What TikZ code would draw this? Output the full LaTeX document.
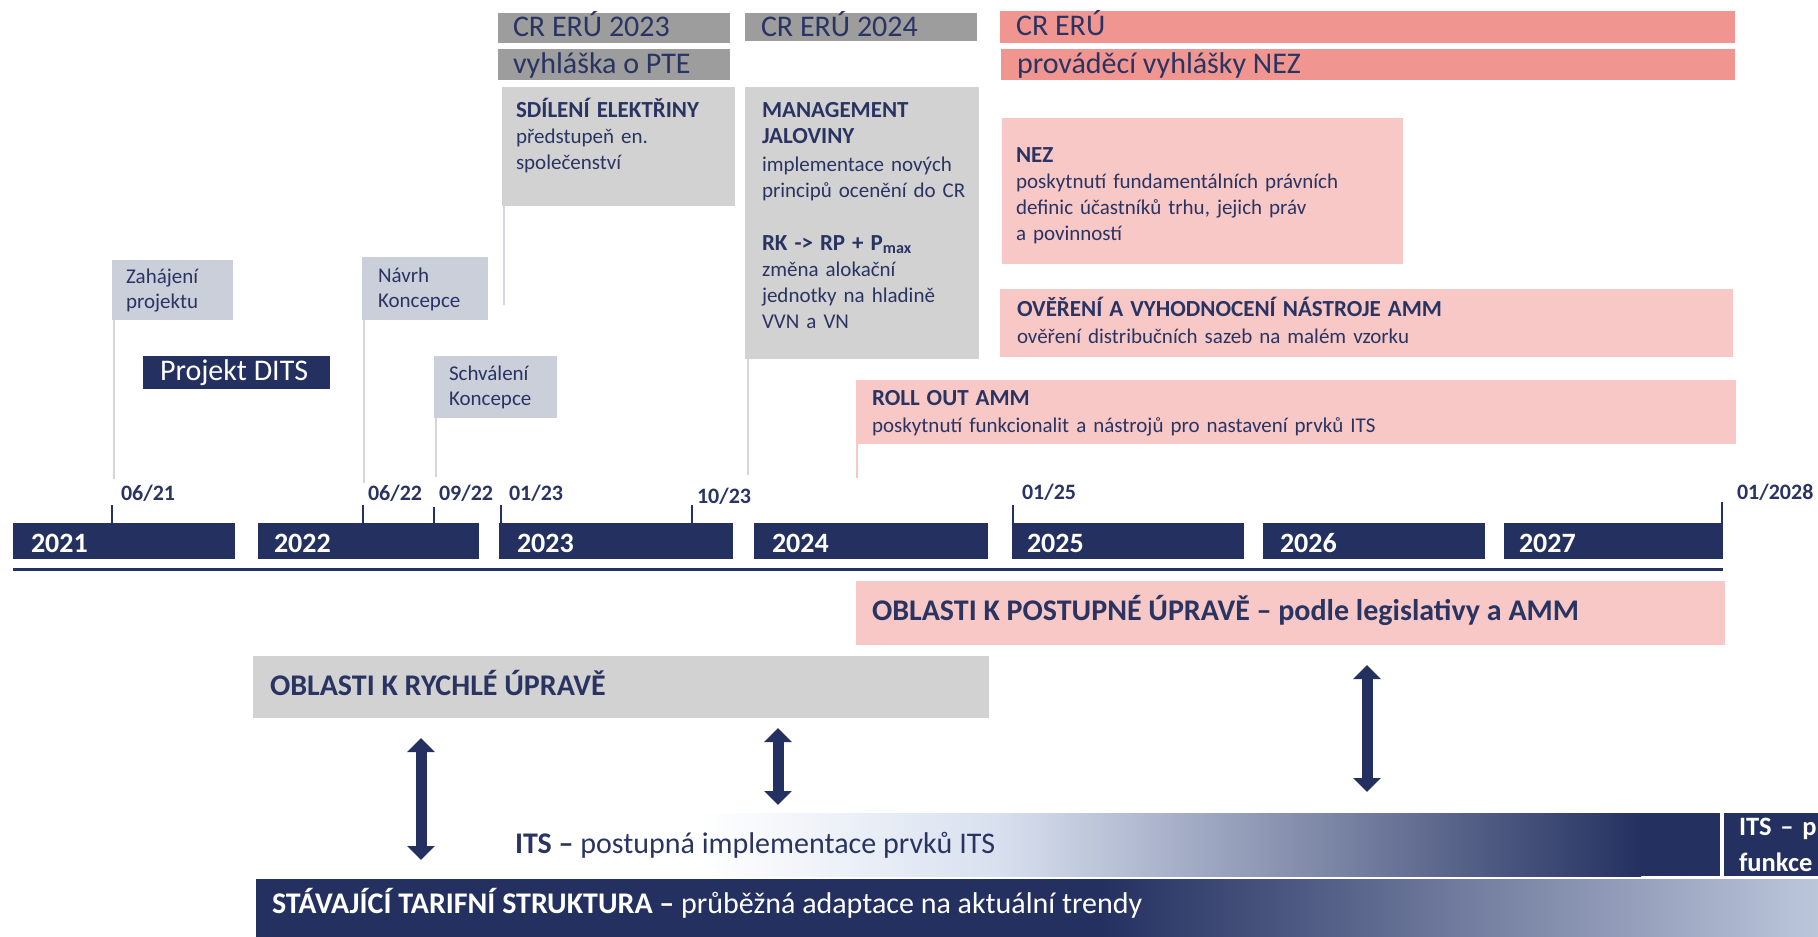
\documentclass[tikz,border=0pt]{standalone}
\usepackage{fontspec}
\setmainfont{Carlito}
\usetikzlibrary{arrows.meta}
\definecolor{navy}{HTML}{243060}
\definecolor{tnavy}{HTML}{2A3463}
\definecolor{hdrgray}{HTML}{9D9D9D}
\definecolor{lgray}{HTML}{D2D2D2}
\definecolor{salmon}{HTML}{F0958F}
\definecolor{lpink}{HTML}{F7C8C6}
\definecolor{msgray}{HTML}{CBCFDA}
\definecolor{connclr}{HTML}{D3D6DE}
\definecolor{itsmid}{HTML}{D8E0EF}
\definecolor{stavend}{HTML}{BCC6DB}
\newcommand\fHdr{\fontsize{30}{36}\selectfont}
\newcommand\fMs{\fontsize{21}{25}\selectfont}
\newcommand\fCont{\fontsize{21}{26}\selectfont}
\newcommand\ttl[1]{{\fontsize{23}{26}\selectfont\bfseries #1}}
\newcommand\fTick{\fontsize{22}{26}\selectfont\bfseries}
\newcommand\fYear{\fontsize{28}{32}\selectfont\bfseries}
\newcommand\fBig{\fontsize{30}{36}\selectfont}
\tikzset{
  box/.style={anchor=north west, inner sep=0pt, outer sep=0pt},
  txt/.style={anchor=base west, inner sep=0pt, outer sep=0pt, text=tnavy, align=left},
  txtw/.style={txt, text width=#1},
  wtxt/.style={txt, text=white},
  connline/.style={draw=connclr, line width=2pt},
  pinkline/.style={draw=lpink, line width=2pt},
  tickline/.style={draw=navy, line width=2.5pt},
  yearbar/.style={box, fill=navy, minimum height=36pt},
  bigarrow/.style={draw=navy, line width=11pt,
    {Triangle[width=27pt,length=14pt]}-{Triangle[width=27pt,length=14pt]}},
}
\begin{document}
\begin{tikzpicture}[x=1pt,y=-1pt]
\useasboundingbox (0,0) rectangle (1818,937);

% ---------- header bars ----------
\node[box, fill=hdrgray, minimum width=232pt, minimum height=30pt] (h23) at (498,13) {};
\node[txt, font=\fHdr] (h23t) at (513,36) {CR ERÚ 2023};
\node[box, fill=hdrgray, minimum width=232pt, minimum height=31pt] (hpte) at (498,49) {};
\node[txt, font=\fHdr] (hptet) at (513,73) {vyhláška o PTE};
\node[box, fill=hdrgray, minimum width=232pt, minimum height=28pt] (h24) at (745,13) {};
\node[txt, font=\fHdr] (h24t) at (761,36) {CR ERÚ 2024};
\node[box, fill=salmon, minimum width=735pt, minimum height=32pt] (heru) at (1000,11) {};
\node[txt, font=\fHdr] (herut) at (1016,35) {CR ERÚ};
\node[box, fill=salmon, minimum width=734pt, minimum height=31pt] (hnez) at (1001,49) {};
\node[txt, font=\fHdr] (hnezt) at (1017,73) {prováděcí vyhlášky NEZ};

% ---------- content boxes ----------
\node[box, fill=lgray, minimum width=233pt, minimum height=119pt] (sdil) at (502,87) {};
\node[txtw=215pt, font=\fCont] (sdilt) at (516,117)
  {\ttl{SDÍLENÍ ELEKTŘINY}\\předstupeň en.\\společenství};
\node[box, fill=lgray, minimum width=234pt, minimum height=272pt] (mgmt) at (745,87) {};
\node[txtw=215pt, font=\fCont] (mgmtt) at (762,117)
  {\ttl{MANAGEMENT}\\\ttl{JALOVINY}\\[2pt]implementace nových\\principů ocenění do CR\\[27pt]%
   \ttl{RK -> RP + P\textsubscript{max}}\\změna alokační\\jednotky na hladině\\VVN a VN};
\node[box, fill=lpink, minimum width=401pt, minimum height=146pt] (nez) at (1002,118) {};
\node[txtw=380pt, font=\fCont] (nezt) at (1016,162)
  {\ttl{NEZ}\\poskytnutí fundamentálních právních\\definic účastníků trhu, jejich práv\\a povinností};
\node[box, fill=lpink, minimum width=733pt, minimum height=68pt] (over) at (1000,289) {};
\node[txtw=700pt, font=\fCont] (overt) at (1017,316)
  {\ttl{OVĚŘENÍ A VYHODNOCENÍ NÁSTROJE AMM}\\[1pt]ověření distribučních sazeb na malém vzorku};
\node[box, fill=lpink, minimum width=880pt, minimum height=64pt] (roll) at (856,380) {};
\node[txtw=850pt, font=\fCont] (rollt) at (872,405)
  {\ttl{ROLL OUT AMM}\\[1pt]poskytnutí funkcionalit a nástrojů pro nastavení prvků ITS};

% ---------- milestones ----------
\node[box, fill=msgray, minimum width=121pt, minimum height=60pt] (zah) at (112,260) {};
\node[txtw=110pt, font=\fMs] (zaht) at (126,283) {Zahájení\\projektu};
\node[box, fill=msgray, minimum width=126pt, minimum height=63pt] (navrh) at (362,257) {};
\node[txtw=110pt, font=\fMs] (navrht) at (378,282) {Návrh\\Koncepce};
\node[box, fill=msgray, minimum width=123pt, minimum height=62pt] (schv) at (434,356) {};
\node[txtw=110pt, font=\fMs] (schvt) at (449,380) {Schválení\\Koncepce};
\node[box, fill=navy, minimum width=187pt, minimum height=33pt] (dits) at (143,356) {};
\node[wtxt, font=\fHdr] (ditst) at (160,380) {Projekt DITS};

% ---------- connectors ----------
\coordinate (c1) at (114,479);
\coordinate (c2) at (364,483);
\coordinate (c3) at (436,477);
\coordinate (c4) at (504,305);
\coordinate (c5) at (748,475);
\coordinate (c6) at (857,478);
\draw[connline] (zah.south west -| c1) -- (c1);
\draw[connline] (navrh.south west -| c2) -- (c2);
\draw[connline] (schv.south west -| c3) -- (c3);
\draw[connline] (sdil.south west -| c4) -- (c4);
\draw[connline] (mgmt.south west -| c5) -- (c5);
\draw[pinkline] (roll.south west -| c6) -- (c6);

% ---------- timeline ----------
\node[yearbar, minimum width=222pt] (y21) at (13,523) {};
\node[yearbar, minimum width=221pt] (y22) at (258,523) {};
\node[yearbar, minimum width=234pt] (y23) at (499,523) {};
\node[yearbar, minimum width=234pt] (y24) at (754,523) {};
\node[yearbar, minimum width=232pt] (y25) at (1012,523) {};
\node[yearbar, minimum width=222pt] (y26) at (1263,523) {};
\node[yearbar, minimum width=219pt] (y27) at (1504,523) {};
\node[wtxt, font=\fYear] (y21t) at (31,552) {2021};
\node[wtxt, font=\fYear] (y22t) at (274,552) {2022};
\node[wtxt, font=\fYear] (y23t) at (517,552) {2023};
\node[wtxt, font=\fYear] (y24t) at (772,552) {2024};
\node[wtxt, font=\fYear] (y25t) at (1027,552) {2025};
\node[wtxt, font=\fYear] (y26t) at (1280,552) {2026};
\node[wtxt, font=\fYear] (y27t) at (1519,552) {2027};

\coordinate (t1) at (112,505);
\coordinate (t2) at (363,505);
\coordinate (t3) at (434,507);
\coordinate (t4) at (501,505);
\coordinate (t5) at (692,505);
\coordinate (t6) at (1013,505);
\coordinate (t7) at (1722,502);
\draw[tickline] (t1) -- (t1 |- y21.north);
\draw[tickline] (t2) -- (t2 |- y22.north);
\draw[tickline] (t3) -- (t3 |- y22.north);
\draw[tickline] (t4) -- (t4 |- y23.north);
\draw[tickline] (t5) -- (t5 |- y23.north);
\draw[tickline] (t6) -- (t6 |- y25.north);
\draw[tickline] (t7) -- (t7 |- y27.north);
\node[txt, font=\fTick] (l1) at (121,500) {06/21};
\node[txt, font=\fTick] (l2) at (368,500) {06/22};
\node[txt, font=\fTick] (l3) at (439,500) {09/22};
\node[txt, font=\fTick] (l4) at (509,500) {01/23};
\node[txt, font=\fTick] (l5) at (697,503) {10/23};
\node[txt, font=\fTick] (l6) at (1022,499) {01/25};
\node[txt, font=\fTick] (l7) at (1737,499) {01/2028};

\coordinate (uL) at (13,569);
\coordinate (uR) at (1723,569);
\draw[navy, line width=3pt] (uL) -- (uR);

% ---------- lower areas ----------
\node[box, fill=lpink, minimum width=869pt, minimum height=64pt] (post) at (856,581) {};
\node[txt, font=\fBig\bfseries] (postt) at (872,620) {OBLASTI K POSTUPNÉ ÚPRAVĚ – podle legislativy a AMM};
\node[box, fill=lgray, minimum width=736pt, minimum height=62pt] (rych) at (253,656) {};
\node[txt, font=\fBig\bfseries] (rycht) at (270,695) {OBLASTI K RYCHLÉ ÚPRAVĚ};

% ITS gradient bar
\shade[left color=white, right color=itsmid] (700,813) rectangle (1001,876);
\shade[left color=itsmid, right color=navy] (1000,813) rectangle (1641,876);
\fill[navy] (1640,813) rectangle (1720,876);
\node[box, minimum width=1020pt, minimum height=63pt] (its) at (700,813) {};
\node[txt, font=\fBig] (itst) at (515,853) {\textbf{ITS –} postupná implementace prvků ITS};
\node[box, fill=navy, minimum width=100pt, minimum height=63pt] (its2) at (1724,813) {};
\node[wtxt, font=\fontsize{26.5}{36}\selectfont\bfseries, text width=120pt] (its2t) at (1739,835) {ITS – p\\funkce};

% current tariff bar
\fill[navy] (256,879) rectangle (1101,937);
\shade[left color=navy, right color=stavend] (1100,879) rectangle (1818,937);
\node[box, minimum width=1562pt, minimum height=58pt] (stav) at (256,879) {};
\node[wtxt, font=\fBig] (stavt) at (272,913) {\textbf{STÁVAJÍCÍ TARIFNÍ STRUKTURA –} průběžná adaptace na aktuální trendy};

% ---------- arrows ----------
\coordinate (a1t) at (421,738);
\coordinate (a1b) at (421,860);
\coordinate (a2t) at (778,728);
\coordinate (a2b) at (778,805);
\coordinate (a3t) at (1367,665);
\coordinate (a3b) at (1367,792);
\draw[bigarrow] (a1t) -- (a1b);
\draw[bigarrow] (a2t) -- (a2b);
\draw[bigarrow] (a3t) -- (a3b);
\end{tikzpicture}
\end{document}
